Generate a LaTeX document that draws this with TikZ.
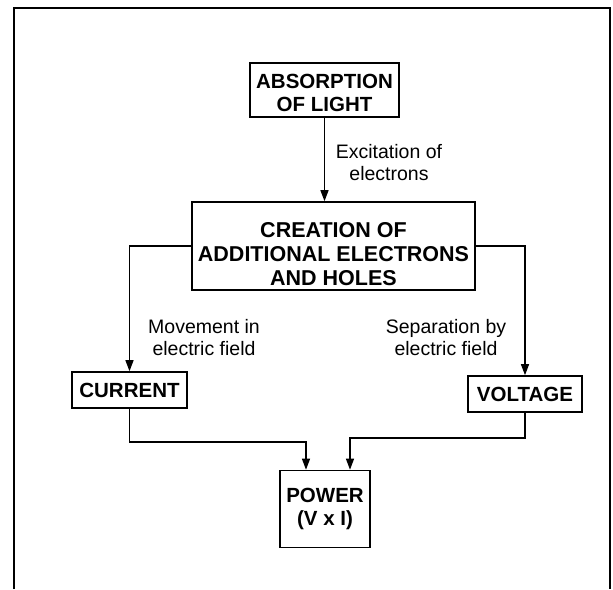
\documentclass[tikz,border=0pt]{standalone}
\usepackage{fontspec}
\setmainfont{Liberation Sans}
\usetikzlibrary{arrows.meta,calc}
\begin{document}
\begin{tikzpicture}[x=1pt,y=-1pt,
  box/.style={draw,line width=1.6pt,inner sep=0pt,align=center,font=\fontsize{20.5}{23}\selectfont\bfseries},
  lbl/.style={align=center,inner sep=0pt,font=\fontsize{19.5}{22}\selectfont},
  conn/.style={line width=1.2pt,-{Triangle[length=11pt,width=8pt]}},
  frame/.style={line width=2.6pt}]
\useasboundingbox (0,0) rectangle (613,589);
\draw[frame] (14,589) -- (14,8) -- (610,8) -- (610,589);
\node[box,minimum width=149pt,minimum height=54pt] (abs) at (324.5,90) {\rule{0pt}{21pt}ABSORPTION\\OF LIGHT};
\node[box,minimum width=283pt,minimum height=88pt,font=\fontsize{21.5}{24}\selectfont\bfseries] (cre) at (333.5,246) {\rule{0pt}{31pt}CREATION OF\\ADDITIONAL ELECTRONS\\AND HOLES};
\node[box,minimum width=115pt,minimum height=36pt] (cur) at (129.5,390) {CURRENT};
\node[box,minimum width=114pt,minimum height=36pt] (vol) at (525,394) {VOLTAGE};
\node[box,minimum width=90pt,minimum height=77pt] (pow) at (325,509) {POWER\\(V x I)};
\node[lbl] (lex) at (389,163) {Excitation of\\electrons};
\node[lbl] (lmv) at (204,338) {Movement in\\electric field};
\node[lbl] (lsp) at (446,338) {Separation by\\electric field};
\coordinate (jl) at (306,442);
\coordinate (jr) at (350,438);
\draw[conn] (abs.south) -- (abs.south |- cre.north);
\draw[conn] (cre.west) -| (cur.north);
\draw[conn] (cre.east) -| (vol.north);
\draw[conn] (cur.south) |- (jl) -- (jl |- pow.north);
\draw[conn] (vol.south) |- (jr) -- (jr |- pow.north);
\end{tikzpicture}
\end{document}
